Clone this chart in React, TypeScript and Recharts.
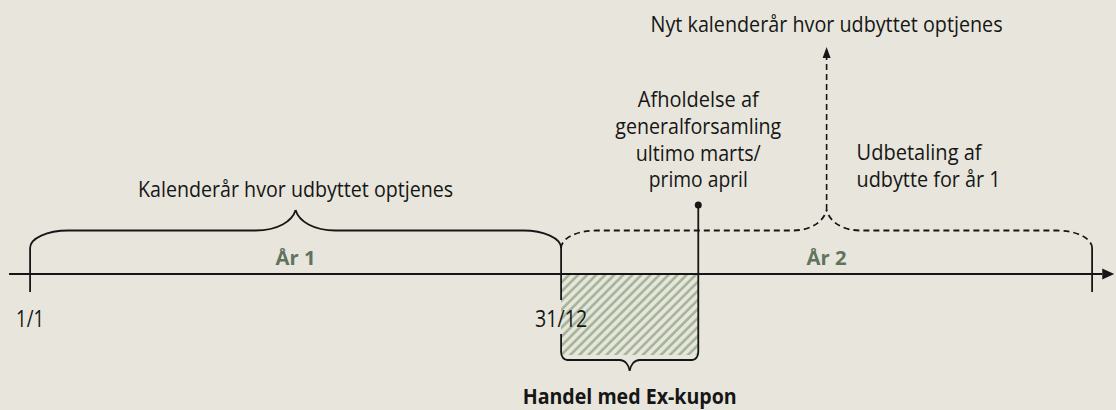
import React from 'react';
import { ComposedChart, XAxis, YAxis, Scatter, ReferenceLine, ReferenceArea, ReferenceDot } from 'recharts';

// Tidslinje i måneder regnet fra 1/1 i år 1
const yearLabels = ['År 1', 'År 2'];
const yearStart = [0, 12];
const yearEnd = [12, 24];
const dateLabels = ['1/1', '31/12'];
const dateMonth = [0, 12];
const generalforsamlingMonth = 15.1; // ultimo marts / primo april i år 2
const exKupon = [12, 15.1]; // fra 31/12 til generalforsamlingen

const noteYear1 = 'Kalenderår hvor udbyttet optjenes';
const noteYear2 = 'Nyt kalenderår hvor udbyttet optjenes';
const noteGf = ['Afholdelse af', 'generalforsamling', 'ultimo marts/', 'primo april'];
const notePayout = ['Udbetaling af', 'udbytte for år 1'];
const noteExKupon = 'Handel med Ex-kupon';

const W = 1116;
const H = 410;
const BG = '#e8e6dc';
const INK = '#161616';
const GREEN = '#5f735d';
const HATCH = '#a2b498';
const FONT = '"Open Sans", "Liberation Sans", sans-serif';

// niveauer (px over tidslinjen)
const LV = {
  tickLow: -18,
  legTop: 26,
  bar: 43.5,
  tip: 64,
  arrowTop: 227,
  dot: 69,
  labelGapTop: -26,
  labelGapLow: -60,
  boxLow: -78,
  boxBar: -86,
  boxTip: -97,
  yearText: 9.5,
  dateText: -53,
  exText: -130,
  note1: 77.5,
  note2: 242,
  gf: [167, 140.5, 113.5, 87],
  payout: [114, 87.3],
};

// målte tekstbredder
const TEXT_LEN: Record<string, number> = {
  'År 1': 40,
  'År 2': 40,
  '1/1': 28,
  '31/12': 52,
  'Kalenderår hvor udbyttet optjenes': 315,
  'Nyt kalenderår hvor udbyttet optjenes': 352,
  'Afholdelse af': 121,
  generalforsamling: 166,
  'ultimo marts/': 125,
  'primo april': 99,
  'Udbetaling af': 125,
  'udbytte for år 1': 144,
  'Handel med Ex-kupon': 214,
};

const STYLE: Record<string, any> = {
  year: { size: 20, weight: 700, fill: GREEN, anchor: 'middle', dx: 0 },
  date: { size: 23, weight: 400, fill: INK, anchor: 'middle', dx: 0 },
  note: { size: 21.5, weight: 400, fill: INK, anchor: 'middle', dx: 0 },
  side: { size: 21.5, weight: 400, fill: INK, anchor: 'start', dx: 30 },
  ex: { size: 22, weight: 700, fill: INK, anchor: 'middle', dx: 0 },
};

const textRows = [
  ...yearLabels.map((t, i) => ({ x: (yearStart[i] + yearEnd[i]) / 2, y: LV.yearText, text: t, kind: 'year' })),
  ...dateLabels.map((t, i) => ({ x: dateMonth[i], y: LV.dateText, text: t, kind: 'date' })),
  { x: (yearStart[0] + yearEnd[0]) / 2, y: LV.note1, text: noteYear1, kind: 'note' },
  { x: (yearStart[1] + yearEnd[1]) / 2, y: LV.note2, text: noteYear2, kind: 'note' },
  ...noteGf.map((t, i) => ({ x: generalforsamlingMonth, y: LV.gf[i], text: t, kind: 'note' })),
  ...notePayout.map((t, i) => ({ x: (yearStart[1] + yearEnd[1]) / 2, y: LV.payout[i], text: t, kind: 'side' })),
  { x: (exKupon[0] + exKupon[1]) / 2, y: LV.exText, text: noteExKupon, kind: 'ex' },
];

const TextMark = (p: any) => {
  const { cx, cy, payload } = p;
  const st = STYLE[payload.kind];
  return (
    <text
      x={cx + st.dx}
      y={cy}
      textAnchor={st.anchor}
      fontFamily={FONT}
      fontSize={st.size}
      fontWeight={st.weight}
      fill={st.fill}
      textLength={TEXT_LEN[payload.text]}
      lengthAdjust="spacingAndGlyphs"
    >
      {payload.text}
    </text>
  );
};

const halfBrace = (x0: number, xm: number, yLeg: number, yBar: number, yTip: number, rh: number, tw: number) => {
  const dx = xm > x0 ? 1 : -1;
  const th = yTip - yBar;
  return (
    `M${x0},${yLeg} C${x0},${yLeg + (yBar - yLeg) * 0.55} ${x0 + dx * rh * 0.45},${yBar} ${x0 + dx * rh},${yBar} ` +
    `L${xm - dx * tw},${yBar} C${xm - dx * tw * 0.45},${yBar} ${xm - dx * tw * 0.08},${yBar + th * 0.45} ${xm},${yTip}`
  );
};

const BraceShape = (props: any) => {
  const { x, y, width, height, up, rh, tw, th, dash } = props;
  const yTip = up ? y : y + height;
  const yLeg = up ? y + height : y;
  const yBar = up ? yTip + th : yTip - th;
  const xm = x + width / 2;
  const d = halfBrace(x, xm, yLeg, yBar, yTip, rh, tw) + ' ' + halfBrace(x + width, xm, yLeg, yBar, yTip, rh, tw);
  return <path d={d} fill="none" stroke={INK} strokeWidth={1.8} strokeDasharray={dash} />;
};

const ArrowShape = (props: any) => {
  const { x1, y1, x2, y2, dash, hl, hw, sw } = props;
  const len = Math.hypot(x2 - x1, y2 - y1) || 1;
  const ux = (x2 - x1) / len;
  const uy = (y2 - y1) / len;
  const bx = x2 - ux * hl;
  const by = y2 - uy * hl;
  return (
    <g>
      <line x1={x1} y1={y1} x2={bx} y2={by} stroke={INK} strokeWidth={sw} strokeDasharray={dash} />
      <path d={`M${x2},${y2} L${bx - uy * hw},${by + ux * hw} L${bx + uy * hw},${by - ux * hw} Z`} fill={INK} />
    </g>
  );
};

const tickProps = { stroke: INK, strokeWidth: 1.8, ifOverflow: 'visible' as const };

export default function App() {
  return (
    <div style={{ position: 'absolute', left: 0, top: 0, width: W, height: H, background: BG }}>
      <ComposedChart width={W} height={H} margin={{ top: 0, right: 0, bottom: 0, left: 0 }}>
        <defs>
          <pattern id="hatch" patternUnits="userSpaceOnUse" width={6.4} height={6.4} patternTransform="rotate(45)">
            <line x1={1.5} y1={0} x2={1.5} y2={6.4} stroke={HATCH} strokeWidth={2.6} />
          </pattern>
        </defs>
        <XAxis type="number" dataKey="x" domain={[-0.68, 24.54]} hide allowDataOverflow />
        <YAxis type="number" dataKey="y" domain={[-136, 274]} hide allowDataOverflow />

        <ReferenceArea
          x1={exKupon[0]}
          x2={exKupon[1]}
          y1={LV.boxLow - 3}
          y2={0}
          fill="url(#hatch)"
          fillOpacity={1}
          stroke="none"
          ifOverflow="visible"
        />

        {/* tidslinjen */}
        <ReferenceLine
          segment={[{ x: -0.475, y: 0 }, { x: 24.5, y: 0 }]}
          ifOverflow="visible"
          shape={(p: any) => <ArrowShape {...p} hl={12} hw={5.5} sw={2} />}
        />

        {/* streger for datoer */}
        <ReferenceLine segment={[{ x: yearStart[0], y: LV.legTop }, { x: yearStart[0], y: LV.tickLow }]} {...tickProps} />
        <ReferenceLine segment={[{ x: yearEnd[1], y: LV.legTop }, { x: yearEnd[1], y: LV.tickLow }]} {...tickProps} />
        <ReferenceLine segment={[{ x: exKupon[0], y: LV.legTop }, { x: exKupon[0], y: LV.labelGapTop }]} {...tickProps} />
        <ReferenceLine segment={[{ x: exKupon[0], y: LV.labelGapLow }, { x: exKupon[0], y: LV.boxLow }]} {...tickProps} />
        <ReferenceLine
          segment={[{ x: generalforsamlingMonth, y: LV.dot }, { x: generalforsamlingMonth, y: LV.boxLow }]}
          {...tickProps}
        />
        <ReferenceDot x={generalforsamlingMonth} y={LV.dot} r={3.5} fill={INK} stroke="none" ifOverflow="visible" />

        {/* klammer */}
        <ReferenceArea
          x1={yearStart[0]}
          x2={yearEnd[0]}
          y1={LV.legTop}
          y2={LV.tip}
          ifOverflow="visible"
          shape={(p: any) => <BraceShape {...p} up rh={38} tw={40} th={LV.tip - LV.bar} />}
        />
        <ReferenceArea
          x1={yearStart[1]}
          x2={yearEnd[1]}
          y1={LV.legTop}
          y2={LV.tip}
          ifOverflow="visible"
          shape={(p: any) => <BraceShape {...p} up rh={35} tw={34} th={LV.tip - LV.bar} dash="6 4" />}
        />
        <ReferenceArea
          x1={exKupon[0]}
          x2={exKupon[1]}
          y1={LV.boxLow}
          y2={LV.boxTip}
          ifOverflow="visible"
          shape={(p: any) => <BraceShape {...p} up={false} rh={6} tw={10} th={LV.boxBar - LV.boxTip} />}
        />

        {/* pil mod nyt kalenderår */}
        <ReferenceLine
          segment={[{ x: (yearStart[1] + yearEnd[1]) / 2, y: LV.tip }, { x: (yearStart[1] + yearEnd[1]) / 2, y: LV.arrowTop }]}
          ifOverflow="visible"
          shape={(p: any) => <ArrowShape {...p} hl={11} hw={4} sw={1.6} dash="6 4" />}
        />

        <Scatter data={textRows} shape={TextMark} isAnimationActive={false} />
      </ComposedChart>
    </div>
  );
}
